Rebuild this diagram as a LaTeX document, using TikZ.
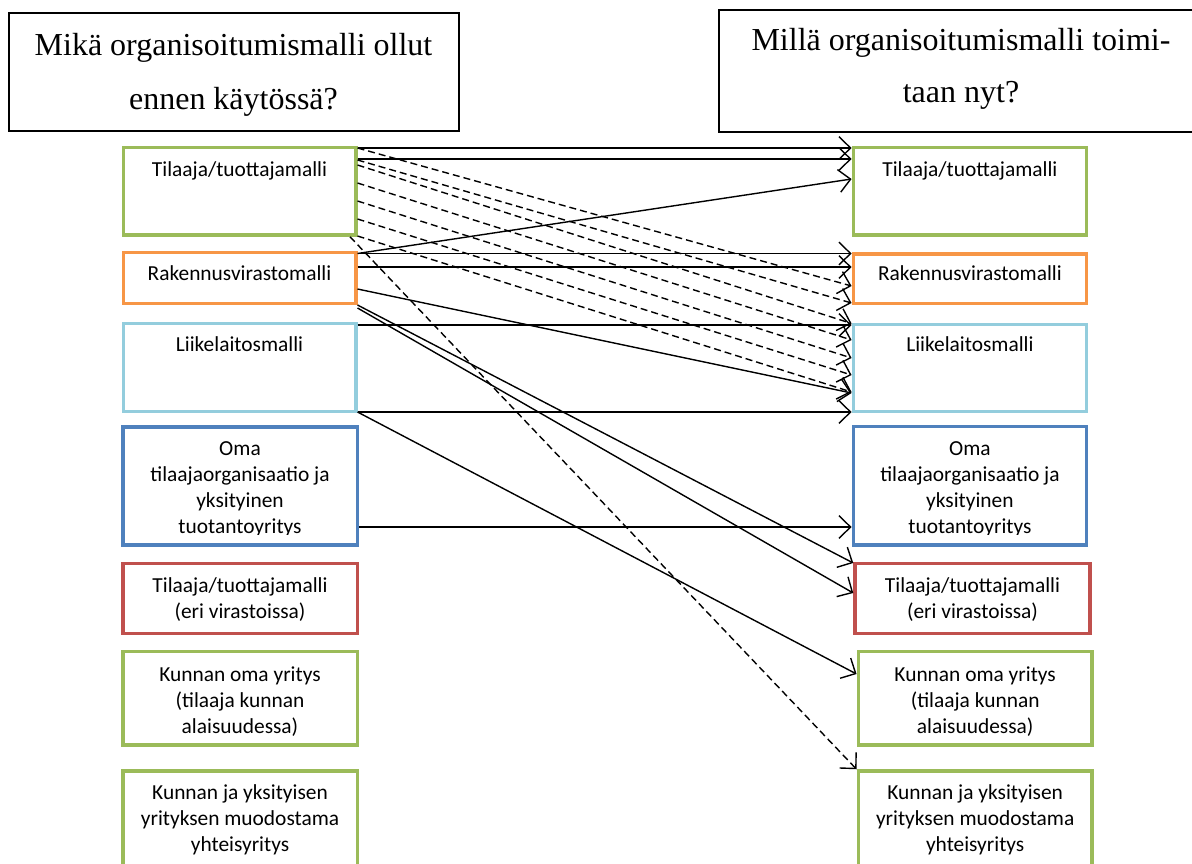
\documentclass[tikz,border=0pt]{standalone}
\usepackage{fontspec}
\setmainfont{Carlito}
\newfontfamily\hdrfont{Liberation Serif}
\usetikzlibrary{arrows.meta}
\definecolor{cgreen}{HTML}{9BBB59}
\definecolor{corange}{HTML}{F79646}
\definecolor{clblue}{HTML}{93CDDD}
\definecolor{cblue}{HTML}{4F81BD}
\definecolor{cred}{HTML}{C0504D}
\newcommand{\mlines}[1]{\begin{tabular}[t]{@{}c@{}}#1\end{tabular}}
\begin{document}
\begin{tikzpicture}[x=0.5pt,y=-0.5pt,
  box/.style={draw=#1, line width=1.75pt, rectangle, inner sep=0pt},
  hdr/.style={draw, line width=1pt, rectangle, inner sep=0pt},
  txt/.style={anchor=base, inner sep=0pt, font=\fontsize{10.7}{13}\selectfont},
  htxt/.style={anchor=base, inner sep=0pt},
  con/.style={line width=0.7pt, -{Straight Barb[length=5.8pt,width=11.4pt]}},
  dcon/.style={con, dash pattern=on 3.5pt off 2pt}]
\useasboundingbox (0,0) rectangle (1192,863);
\clip (0,0) rectangle (1192,863);
\fill[white] (0,0) rectangle (1192,863);

% header boxes
\node[hdr, minimum width=225.1pt, minimum height=59.2pt] (hl) at (234.1,72.1) {};
\node[hdr, minimum width=242.5pt, minimum height=60.75pt] (hr) at (961.8,71) {};
\node[htxt, font=\hdrfont\fontsize{16}{27}\selectfont] (thl) at (233.5,55) {\mlines{Mikä organisoitumismalli ollut\\ennen käytössä?}};
\node[htxt, font=\hdrfont\fontsize{16}{26.25}\selectfont] (thr) at (961,50) {\mlines{Millä organisoitumismalli toimi-\\taan nyt?}};

% left boxes
\node[box=cgreen,  minimum width=116.25pt, minimum height=43.75pt] (L1) at (239.5,191.25) {};
\node[box=corange, minimum width=116.25pt, minimum height=25.5pt]  (L2) at (239.5,278) {};
\node[box=clblue,  minimum width=116.25pt, minimum height=44pt]    (L3) at (239.5,367.5) {};
\node[box=cblue,   minimum width=117.25pt, minimum height=59pt]    (L4) at (240,486) {};
\node[box=cred,    minimum width=117.25pt, minimum height=35pt]    (L5) at (240,598.3) {};
\node[box=cgreen,  minimum width=117.25pt, minimum height=46.65pt] (L6) at (240,698.35) {};
\node[box=cgreen,  minimum width=117.25pt, minimum height=64.5pt]  (L7) at (240,835.5) {};

% right boxes
\node[box=cgreen,  minimum width=116.6pt, minimum height=43.65pt] (R1) at (969.9,191.35) {};
\node[box=corange, minimum width=116.6pt, minimum height=24.65pt] (R2) at (969.9,278.65) {};
\node[box=clblue,  minimum width=116.6pt, minimum height=43.7pt]  (R3) at (969.9,368) {};
\node[box=cblue,   minimum width=116.6pt, minimum height=59.15pt] (R4) at (969.9,485.85) {};
\node[box=cred,    minimum width=117.5pt, minimum height=35pt]    (R5) at (972.5,598.3) {};
\node[box=cgreen,  minimum width=116.85pt, minimum height=46.65pt] (R6) at (975.15,698.35) {};
\node[box=cgreen,  minimum width=116.85pt, minimum height=64.5pt] (R7) at (975.15,835.5) {};

% texts
\node[txt] (tL1) at (239.5,176) {\mlines{Tilaaja/tuottajamalli}};
\node[txt] (tL2) at (239.5,280) {\mlines{Rakennusvirastomalli}};
\node[txt] (tL3) at (239.5,351) {\mlines{Liikelaitosmalli}};
\begin{scope}
\clip (100,420) rectangle (380,534);
\node[txt] (tL4) at (240,455) {\mlines{Oma\\tilaajaorganisaatio ja\\yksityinen\\tuotantoyritys}};
\end{scope}
\node[txt] (tL5) at (240,592) {\mlines{Tilaaja/tuottajamalli\\(eri virastoissa)}};
\node[txt] (tL6) at (240,681) {\mlines{Kunnan oma yritys\\(tilaaja kunnan\\alaisuudessa)}};
\node[txt] (tL7) at (240,799) {\mlines{Kunnan ja yksityisen\\yrityksen muodostama\\yhteisyritys}};

\node[txt] (tR1) at (969.9,176) {\mlines{Tilaaja/tuottajamalli}};
\node[txt] (tR2) at (969.9,280) {\mlines{Rakennusvirastomalli}};
\node[txt] (tR3) at (969.9,351) {\mlines{Liikelaitosmalli}};
\begin{scope}
\clip (840,420) rectangle (1100,534);
\node[txt] (tR4) at (969.9,455) {\mlines{Oma\\tilaajaorganisaatio ja\\yksityinen\\tuotantoyritys}};
\end{scope}
\node[txt] (tR5) at (972.5,592) {\mlines{Tilaaja/tuottajamalli\\(eri virastoissa)}};
\node[txt] (tR6) at (975.15,681) {\mlines{Kunnan oma yritys\\(tilaaja kunnan\\alaisuudessa)}};
\node[txt] (tR7) at (975.15,799) {\mlines{Kunnan ja yksityisen\\yrityksen muodostama\\yhteisyritys}};

% solid connectors
\draw[con] (L1.east |- 0,148) -- (R1.west |- 0,148);
\draw[con] (L1.east |- 0,159) -- (R1.west |- 0,159);
\draw[con] (L2.east |- 0,253.5) -- (R1.west |- 0,179);
\draw[con] (L2.east |- 0,253.5) -- (R2.west |- 0,253.5);
\draw[con] (L2.east |- 0,267) -- (R2.west |- 0,267);
\draw[con] (L2.east |- 0,289) -- (R3.west |- 0,393);
\draw[con] (L3.east |- 0,325) -- (R3.west |- 0,325);
\draw[con] (L3.east |- 0,412) -- (R3.west |- 0,412);
\draw[con] (L2.east |- 0,305) -- (R5.west |- 0,563);
\draw[con] (L2.east |- 0,308) -- (R5.west |- 0,593);
\draw[con] (L3.east |- 0,412) -- (R6.west |- 0,674);
\draw[con] (L4.east |- 0,527) -- (R4.west |- 0,527);

% dashed connectors
\draw[dcon] (L1.east |- 0,148) -- (R2.west |- 0,286);
\draw[dcon] (L1.east |- 0,160) -- (R2.west |- 0,303);
\draw[dcon] (L1.east |- 0,165) -- (R3.west |- 0,323.5);
\draw[dcon] (L1.east |- 0,183) -- (R3.west |- 0,340);
\draw[dcon] (L1.east |- 0,201) -- (R3.west |- 0,358);
\draw[dcon] (L1.east |- 0,219) -- (R3.west |- 0,375);
\draw[dcon] (L1.east |- 0,236) -- (R3.west |- 0,392);
\draw[dcon] (L1.south -| 350,0) -- (R7.north west);
\end{tikzpicture}
\end{document}
